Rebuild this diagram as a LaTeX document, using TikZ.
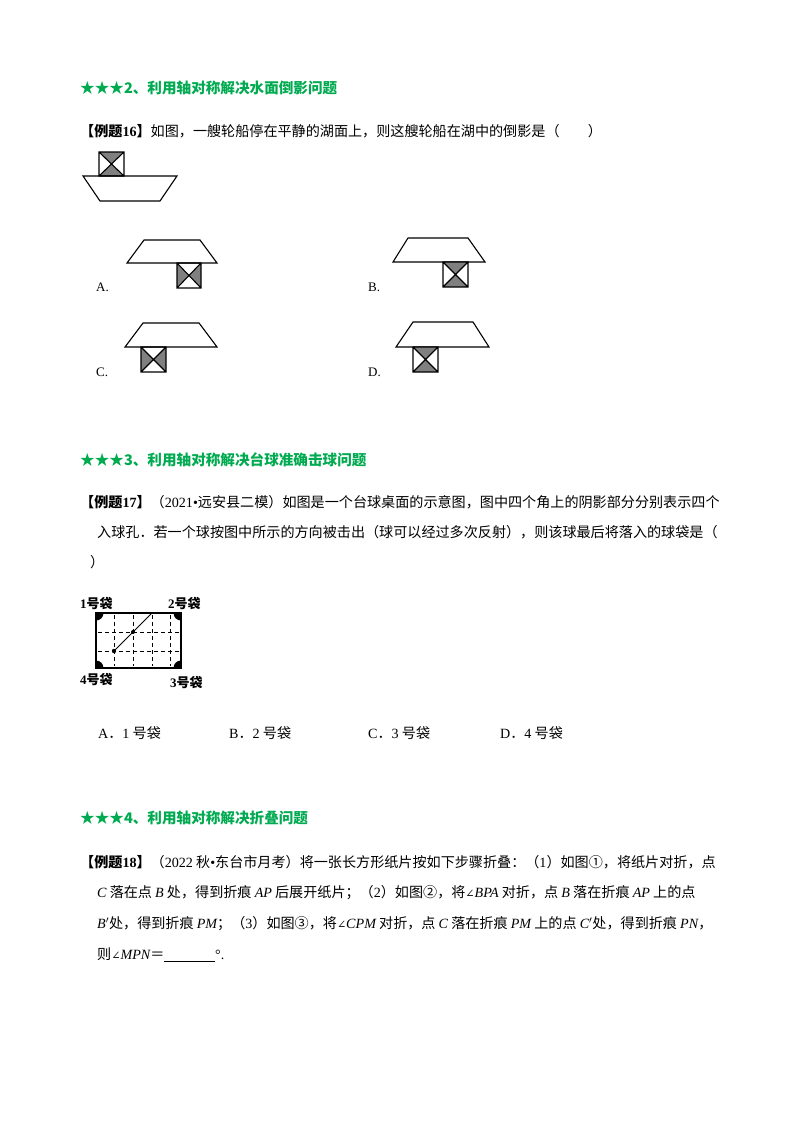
\documentclass[tikz,border=0pt]{standalone}
\usepackage{fontspec}
\usetikzlibrary{calc}
\setmainfont{Noto Sans CJK SC}
\newfontfamily\lat{Liberation Serif}
\newfontfamily\djvs{DejaVu Serif}
\newcommand\vi[1]{{\lat\itshape #1}}
\newcommand\vr[1]{{\lat #1}}
\newcommand\ang{{\djvs\fontsize{11}{11}\selectfont ∠}}
\definecolor{hgreen}{RGB}{0,170,80}
\newcommand\shipbx[5]{% x1 y1 x2 y2 mode(v/h)
  \ifx#5v
    \fill[gr] (#1,#2) -- (#3,#2) -- ({(#1+#3)/2},{(#2+#4)/2}) -- cycle;
    \fill[gr] (#1,#4) -- (#3,#4) -- ({(#1+#3)/2},{(#2+#4)/2}) -- cycle;
  \else
    \fill[gr] (#1,#2) -- (#1,#4) -- ({(#1+#3)/2},{(#2+#4)/2}) -- cycle;
    \fill[gr] (#3,#2) -- (#3,#4) -- ({(#1+#3)/2},{(#2+#4)/2}) -- cycle;
  \fi
  \draw[ln] (#1,#2) rectangle (#3,#4) (#1,#2) -- (#3,#4) (#3,#2) -- (#1,#4);}
\begin{document}
\begin{tikzpicture}[x=1pt,y=-1pt,
  head/.style={anchor=west,inner sep=0,font=\fontsize{14.6}{15}\selectfont\bfseries,text=hgreen},
  body/.style={anchor=west,inner sep=0,font=\fontsize{14.1}{15}\selectfont},
  lab/.style={anchor=west,inner sep=0,font=\fontsize{13}{13}\selectfont\lat},
  pk/.style={anchor=west,inner sep=0,font=\fontsize{13}{13}\selectfont\bfseries},
  ln/.style={line width=1.1pt},
  gr/.style={fill=black!50}]
\useasboundingbox (0,0) rectangle (800,1132);
% headings
\node[head] (h2) at (80,88) {★★★2、利用轴对称解决水面倒影问题};
\node[body] (e16) at (80,131) {\textbf{【例题\vr{16}】}如图，一艘轮船停在平静的湖面上，则这艘轮船在湖中的倒影是（　　）};
% original ship
\shipbx{99}{152}{124}{176}{v}
\draw[ln] (83,176) -- (177,176) -- (160,201) -- (100,201) -- cycle;
% A
\draw[ln] (144,240) -- (200,240) -- (217,263) -- (127,263) -- cycle;
\shipbx{177}{263}{201}{288}{h}
\node[lab] (la) at (96,287) {A.};
% B
\draw[ln] (408,238) -- (468,238) -- (485,262) -- (393,262) -- cycle;
\shipbx{443}{262}{468}{287}{v}
\node[lab] (lb) at (368,287) {B.};
% C
\draw[ln] (143,323) -- (199,323) -- (217,347) -- (125,347) -- cycle;
\shipbx{141}{347}{166}{372}{h}
\node[lab] (lc) at (96,372) {C.};
% D
\draw[ln] (413,322) -- (473,322) -- (489,347) -- (396,347) -- cycle;
\shipbx{413}{347}{438}{372}{v}
\node[lab] (ld) at (368,372) {D.};
% section 3
\node[head] (h3) at (80,460) {★★★3、利用轴对称解决台球准确击球问题};
\node[body] (e17a) at (80,502) {\textbf{【例题\vr{17}】}（\vr{2021•}远安县二模）如图是一个台球桌面的示意图，图中四个角上的阴影部分分别表示四个};
\node[body] (e17b) at (97,532) {入球孔．若一个球按图中所示的方向被击出（球可以经过多次反射），则该球最后将落入的球袋是（};
\node[body] (e17c) at (90,562) {）};
% billiard table
\draw[dash pattern=on 4pt off 3pt,line width=0.9pt]
  (114,615) -- (114,666) (133,615) -- (133,666) (152,615) -- (152,666) (170,615) -- (170,666)
  (98,632) -- (179,632) (98,651) -- (179,651);
\begin{scope}
\clip (96,613) rectangle (181,668);
\fill (96,613) circle (7.5) (181,613) circle (7.5) (96,668) circle (7.5) (181,668) circle (7.5);
\end{scope}
\draw[line width=1.3pt] (96,613) rectangle (181,668);
\coordinate (ball) at (114,651);
\coordinate (hit) at (152,613);
\draw[line width=1pt] (ball) -- (hit);
\fill (ball) circle (2.2) ($(ball)!0.5!(hit)$) circle (2);
\node[pk] (p1) at (80,604) {\vr{\textbf{1}}号袋};
\node[pk] (p2) at (168,604) {\vr{\textbf{2}}号袋};
\node[pk] (p4) at (80,680) {\vr{\textbf{4}}号袋};
\node[pk] (p3) at (170,683) {\vr{\textbf{3}}号袋};
\node[body] (a1) at (98,733) {\vr{A}．\vr{1} 号袋};
\node[body] (a2) at (229,733) {\vr{B}．\vr{2} 号袋};
\node[body] (a3) at (368,733) {\vr{C}．\vr{3} 号袋};
\node[body] (a4) at (500,733) {\vr{D}．\vr{4} 号袋};
% section 4
\node[head] (h4) at (80,818) {★★★4、利用轴对称解决折叠问题};
\node[body] (e18a) at (80,862) {\textbf{【例题\vr{18}】}（\vr{2022} 秋\vr{•}东台市月考）将一张长方形纸片按如下步骤折叠：（\vr{1}）如图①，将纸片对折，点};
\node[body] (e18b) at (97,893) {\vi{C} 落在点 \vi{B} 处，得到折痕 \vi{AP} 后展开纸片；（\vr{2}）如图②，将\ang\vi{BPA} 对折，点 \vi{B} 落在折痕 \vi{AP} 上的点};
\node[body] (e18c) at (97,924) {\vi{B}\vr{$'$}处，得到折痕 \vi{PM}；（\vr{3}）如图③，将\ang\vi{CPM} 对折，点 \vi{C} 落在折痕 \vi{PM} 上的点 \vi{C}\vr{$'$}处，得到折痕 \vi{PN}，};
\node[body] (e18d) at (97,955) {则\ang\vi{MPN}＝\vr{\underline{\hspace{3.6em}}°.}};
\end{tikzpicture}
\end{document}
